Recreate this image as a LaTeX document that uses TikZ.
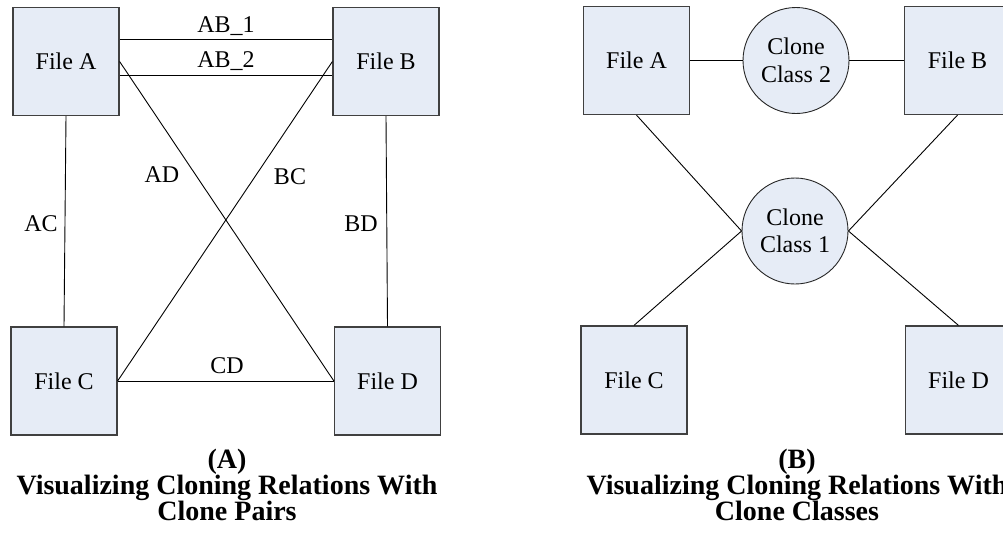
\documentclass[tikz,border=0pt]{standalone}
\usepackage{fontspec}
\setmainfont{Liberation Serif}
\definecolor{boxfill}{RGB}{230,236,246}
\definecolor{boxline}{RGB}{64,64,64}
\newcommand{\uscore}{\char"5F\relax}

\begin{document}
\begin{tikzpicture}[x=1pt,y=-1pt,
  filebox/.style={draw=boxline, line width=1.2pt, fill=boxfill,
    minimum width=106pt, minimum height=108pt, inner sep=0pt,
    font=\fontsize{24}{27}\selectfont},
  clonecirc/.style={circle, draw=black!85, line width=0.9pt, fill=boxfill,
    minimum size=106pt, inner sep=0pt, align=center,
    font=\fontsize{24}{27.5}\selectfont},
  link/.style={draw=black, line width=0.9pt},
  lbl/.style={font=\fontsize{24}{27}\selectfont, anchor=base, inner sep=0pt},
  caption/.style={font=\bfseries\fontsize{28}{26}\selectfont,
    align=center, anchor=base, inner sep=0pt}
]
\useasboundingbox (0,0) rectangle (1003,544);
\clip (0,0) rectangle (1003,544);

% ---- (A) clone pairs ----
\node[filebox] (A) at (66,61.5)  {File A};
\node[filebox] (B) at (386,61.5) {File B};
\node[filebox] (C) at (64,381)   {File C};
\node[filebox] (D) at (387.5,381) {File D};

\draw[link] ([yshift=22.5pt]A.east) -- ([yshift=22.5pt]B.west);
\draw[link] ([yshift=-13.5pt]A.east) -- ([yshift=-13.5pt]B.west);
\draw[link] (A.east) -- (D.west);
\draw[link] (B.west) -- (C.east);
\draw[link] (C.east) -- (D.west);
\draw[link] (A.south) -- (C.north);
\draw[link] (B.south) -- (D.north);

\node[lbl] (lab1) at (226,32)  {AB\uscore 1};
\node[lbl] (lab2) at (226,67)  {AB\uscore 2};
\node[lbl] (lad)  at (162,182) {AD};
\node[lbl] (lbc)  at (290,184) {BC};
\node[lbl] (lac)  at (41,231)  {AC};
\node[lbl] (lbd)  at (361,231) {BD};
\node[lbl] (lcd)  at (227,373) {CD};

% multi-line caption: the base anchor sits on the last line
\node[caption] (capA) at (227,520)
  {(A)\\Visualizing Cloning Relations With\\Clone Pairs};

% ---- (B) clone classes ----
\node[filebox] (A2) at (636.5,60.5)  {File A};
\node[filebox] (B2) at (957.5,60.5)  {File B};
\node[filebox] (C2) at (634,380)   {File C};
\node[filebox] (D2) at (958.5,380) {File D};
\node[clonecirc] (cc2) at (796,60.5)  {Clone\\Class 2};
\node[clonecirc] (cc1) at (795,231) {Clone\\Class 1};

\draw[link] (A2.east) -- (cc2.west);
\draw[link] (cc2.east) -- (B2.west);
\draw[link] (A2.south) -- (cc1.west);
\draw[link] (C2.north) -- (cc1.west);
\draw[link] (B2.south) -- (cc1.east);
\draw[link] (D2.north) -- (cc1.east);

\node[caption] (capB) at (797,520)
  {(B)\\Visualizing Cloning Relations With\\Clone Classes};
\end{tikzpicture}
\end{document}
